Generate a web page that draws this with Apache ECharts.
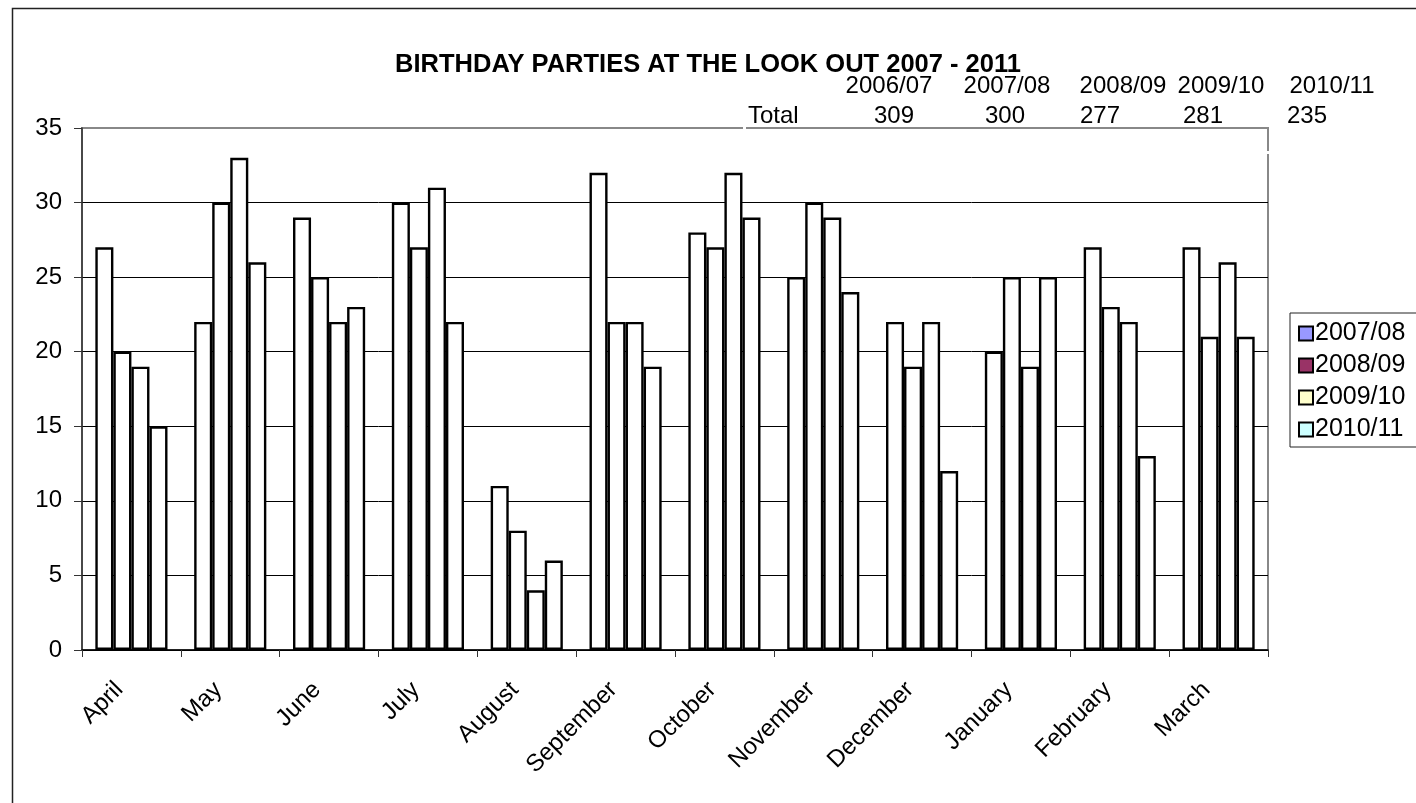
<!DOCTYPE html>
<html>
<head>
<meta charset="utf-8">
<script src="https://cdn.jsdelivr.net/npm/echarts@6/dist/echarts.min.js"></script>
<style>
  html, body { margin: 0; padding: 0; background: #fff; }
  #chart { width: 1416px; height: 803px; }
</style>
</head>
<body>
<div id="chart"></div>
<script>
// months of the season
const months = ["April", "May", "June", "July", "August", "September",
  "October", "November", "December", "January", "February", "March"];
const seriesNames = ["2007/08", "2008/09", "2009/10", "2010/11"];
const legendColors = ["#9999FF", "#993366", "#FFFFCC", "#CCFFFF"];
const s0708 = [27, 22, 29, 30, 11, 32, 28, 25, 22, 20, 27, 27];
const s0809 = [20, 30, 25, 27, 8, 22, 27, 30, 19, 25, 23, 21];
const s0910 = [19, 33, 22, 31, 4, 22, 32, 29, 22, 19, 22, 26];
const s1011 = [15, 26, 23, 22, 6, 19, 29, 24, 12, 25, 13, 21];
// totals table above the plot
const totalYears = ["2006/07", "2007/08", "2008/09", "2009/10", "2010/11"];
const totals = [309, 300, 277, 281, 235];
const yTicks = [0, 5, 10, 15, 20, 25, 30, 35];

const font = "Liberation Sans, Arial, sans-serif";
const chart = echarts.init(document.getElementById("chart"));

const yearX = [889, 1007, 1123, 1221, 1332];
const totalX = [894, 1005, 1100, 1203, 1307];

const graphics = [
  {type: "rect", left: 10, top: 6, shape: {width: 1500, height: 900},
    style: {fill: "none", stroke: "#222", lineWidth: 1.5}, z: 0},
  // little white gaps where the text box sits over the plot border
  {type: "rect", left: 743, top: 125, shape: {width: 3, height: 6}, style: {fill: "#fff"}, z: 50},
  {type: "rect", left: 1265, top: 151, shape: {width: 6, height: 3}, style: {fill: "#fff"}, z: 50},
  {type: "text", x: 748, y: 116, style: {text: "Total", font: "24px " + font, fill: "#000", textVerticalAlign: "middle"}, z: 60}
];
totalYears.forEach((t, i) => {
  graphics.push({type: "text", x: yearX[i], y: 86,
    style: {text: t, font: "24px " + font, fill: "#000", textAlign: "center", textVerticalAlign: "middle"}, z: 60});
});
totals.forEach((t, i) => {
  graphics.push({type: "text", x: totalX[i], y: 116,
    style: {text: String(t), font: "24px " + font, fill: "#000", textAlign: "center", textVerticalAlign: "middle"}, z: 60});
});

const allData = [s0708, s0809, s0910, s1011];

const options = {
  animation: false,
  backgroundColor: "#fff",
  title: {
    text: "BIRTHDAY PARTIES AT THE LOOK OUT 2007 - 2011",
    left: "center",
    top: 47,
    textStyle: {fontFamily: font, fontWeight: "bold", fontSize: 25.5, color: "#000"}
  },
  legend: {
    orient: "vertical",
    left: 1290,
    top: 313,
    padding: [8, 30, 5, 8],
    itemWidth: 14,
    itemHeight: 14,
    itemGap: 7,
    icon: "rect",
    borderColor: "#222",
    borderWidth: 1,
    textStyle: {fontFamily: font, fontSize: 25, color: "#000", padding: [0, 0, 0, -3]},
    data: seriesNames.map((n, i) => ({
      name: n,
      itemStyle: {color: legendColors[i], borderColor: "#000", borderWidth: 2}
    }))
  },
  grid: {
    left: 82,
    top: 128,
    width: 1186,
    height: 522,
    show: true,
    borderColor: "#888",
    borderWidth: 2,
    containLabel: false
  },
  xAxis: {
    type: "category",
    data: months,
    axisLine: {lineStyle: {color: "#000", width: 1.5}},
    axisTick: {show: true, length: 7, lineStyle: {color: "#333"}},
    axisLabel: {rotate: 45, margin: 24, padding: [0, 17, 0, 0], fontFamily: font, fontSize: 24, color: "#000"}
  },
  yAxis: {
    type: "value",
    min: 0,
    max: 35,
    interval: 5,
    axisLine: {show: true, lineStyle: {color: "#333", width: 1.5}},
    axisTick: {show: true, length: 8, lineStyle: {color: "#333"}},
    axisLabel: {margin: 20, fontFamily: font, fontSize: 24, color: "#000",
      formatter: v => yTicks.includes(v) ? String(v) : ""},
    splitLine: {show: true, lineStyle: {color: ["#000", "#000", "#000", "#000", "#000", "#000", "#000", "#888"], width: 1}}
  },
  series: allData.map((d, i) => ({
    name: seriesNames[i],
    type: "bar",
    data: d,
    barGap: "0%",
    barCategoryGap: "27%",
    itemStyle: {color: "#fff", borderColor: "#000", borderWidth: 2.4}
  })),
  graphic: graphics
};

chart.setOption(options, true);
</script>
</body>
</html>
